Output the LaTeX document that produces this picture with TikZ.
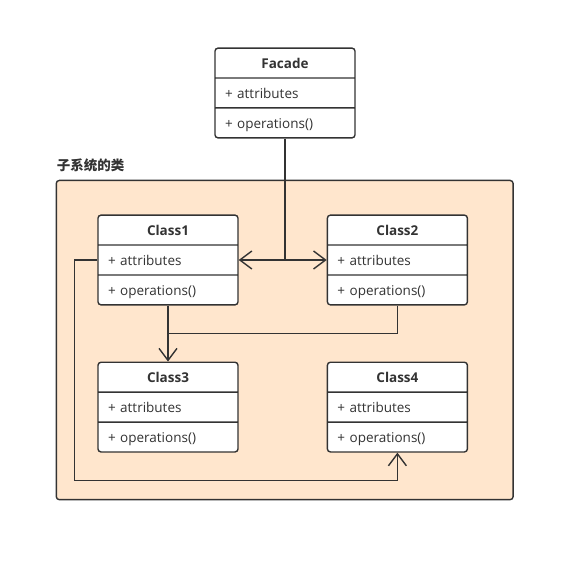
\documentclass[tikz,border=0pt]{standalone}
\usepackage{fontspec}
\setmainfont{Open Sans}
\newfontfamily\cjk{Noto Sans CJK SC}
\usetikzlibrary{shapes.multipart,positioning,fit,backgrounds,calc,arrows.meta}
\definecolor{mline}{RGB}{51,51,51}
\definecolor{mpeach}{RGB}{255,230,205}
\newcommand{\RowStrut}{\rule[-9pt]{0pt}{28.5pt}}
\newcommand{\UmlClass}[3][]{
  \node [rectangle split,rectangle split parts=3,fill=white,
  text width=120pt,align=left,text=mline,draw=mline,line width=1.4pt,
  rounded corners=3pt,inner xsep=10pt,inner ysep=0pt,
  #1]
  (class-#2)
 {\RowStrut\hspace*{\fill}\textbf{#3}\hspace*{\fill}
 \nodepart{two}\RowStrut+ attributes
 \nodepart{three}\RowStrut+ operations()};
}

\begin{document}
\begin{tikzpicture}[x=1pt,y=-1pt,font=\fontsize{13.5}{16}\selectfont,
  conn/.style={draw=mline,line width=1.4pt},
  arr/.style={conn,-{Straight Barb[length=12pt,width=18pt]}}]
  \useasboundingbox (0,0) rectangle (575,561);
  \UmlClass[at={(285,93)}]{facade}{Facade}
  \UmlClass[at={(168,260)}]{one}{Class1}
  \UmlClass[right=88pt of class-one]{two}{Class2}
  \UmlClass[below=56pt of class-one]{three}{Class3}
  \UmlClass[right=88pt of class-three]{four}{Class4}
  % subsystem frame
  \coordinate (sub-nw) at ([shift={(-41pt,34pt)}]class-one.north west);
  \coordinate (sub-se) at ([shift={(45pt,-47pt)}]class-four.south east);
  \begin{scope}[on background layer]
  \node[fit=(sub-nw) (sub-se),inner sep=0pt,fill=mpeach,draw=mline,
  line width=1.4pt,rounded corners=3pt,
  label={[anchor=south west,inner sep=0pt,xshift=1pt,yshift=8pt,text=mline,
  font={\cjk\bfseries\fontsize{13.5}{16}\selectfont}]north west:子系统的类}] (sub) {};
  \end{scope}
  % connectors
  \coordinate (jn) at (class-facade.south |- class-one.two east);
  \draw[conn] (class-facade) -- (jn);
  \draw[arr] (jn) -- (class-one.two east);
  \draw[arr] (jn) -- (class-two.two west);
  \draw[arr] (class-one) -- (class-three);
  \draw[conn] (class-two.south) |- ($(class-one.south)!.5!(class-three.north)$);
  \draw[arr] (class-one.two west) -| ([shift={(-23pt,-28pt)}]class-three.south west)
  -| (class-four.south);
\end{tikzpicture}
\end{document}
